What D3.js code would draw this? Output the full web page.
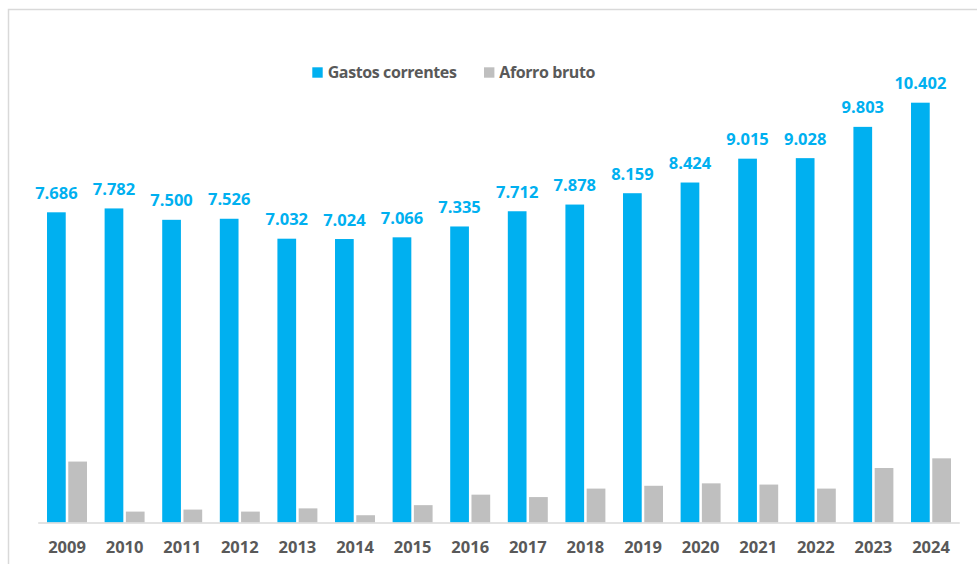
<!DOCTYPE html>
<html>
<head>
<meta charset="utf-8">
<script src="https://cdn.jsdelivr.net/npm/d3@7"></script>
<style>
  html, body { margin: 0; padding: 0; background: #fff; }
  svg { display: block; }
  text { font-family: "Open Sans", Lato, sans-serif; font-weight: bold; }
</style>
</head>
<body>
<svg id="chart" width="977" height="564"></svg>
<script>
// Years on the category axis
const years = ["2009","2010","2011","2012","2013","2014","2015","2016",
               "2017","2018","2019","2020","2021","2022","2023","2024"];
// Current expenditure (labelled values)
const gastosCorrentes = [7.686, 7.782, 7.500, 7.526, 7.032, 7.024, 7.066, 7.335,
                         7.712, 7.878, 8.159, 8.424, 9.015, 9.028, 9.803, 10.402];
// Gross savings
const aforroBruto = [1.51, 0.27, 0.32, 0.27, 0.35, 0.18, 0.43, 0.69,
                     0.63, 0.84, 0.91, 0.97, 0.94, 0.84, 1.35, 1.59];
// Series names and colours
const seriesNames = ["Gastos correntes", "Aforro bruto"];
const seriesColors = ["#00B0F0", "#BFBFBF"];

const svg = d3.select("#chart");
const W = 977, H = 564;

// outer frame
svg.append("rect")
  .attr("x", 8.5).attr("y", 9.5)
  .attr("width", W + 20).attr("height", H + 20)
  .attr("fill", "none").attr("stroke", "#D9D9D9").attr("stroke-width", 1.5);

const plotLeft = 38.2, plotRight = 959.8;
const baseY = 522.5, topY = 38.2;

const x = d3.scaleBand().domain(years).range([plotLeft, plotRight]).paddingInner(0.306).paddingOuter(0.153);
const inner = d3.scaleBand().domain(seriesNames).range([0, x.bandwidth()]).paddingInner(0.12);
const y = d3.scaleLinear().domain([0, 12]).range([baseY, topY]);

const rows = years.map((yr, i) => ({ yr, g: gastosCorrentes[i], a: aforroBruto[i] }));

const groups = svg.append("g").selectAll("g").data(rows).join("g")
  .attr("transform", d => `translate(${x(d.yr)},0)`);

groups.append("rect")
  .attr("x", inner(seriesNames[0]))
  .attr("width", inner.bandwidth())
  .attr("y", d => y(d.g))
  .attr("height", d => y(0) - y(d.g))
  .attr("fill", seriesColors[0]);

groups.append("rect")
  .attr("x", inner(seriesNames[1]))
  .attr("width", inner.bandwidth())
  .attr("y", d => y(d.a))
  .attr("height", d => y(0) - y(d.a))
  .attr("fill", seriesColors[1]);

// value labels above the expenditure bars
groups.append("text")
  .attr("x", inner(seriesNames[0]) + inner.bandwidth() / 2)
  .attr("y", d => y(d.g) - 13.4)
  .attr("text-anchor", "middle")
  .attr("font-size", 16.5)
  .attr("fill", seriesColors[0])
  .text(d => d3.format(".3f")(d.g));

// baseline
svg.append("line")
  .attr("x1", plotLeft).attr("x2", plotRight)
  .attr("y1", baseY + 0.5).attr("y2", baseY + 0.5)
  .attr("stroke", "#D9D9D9").attr("stroke-width", 1.5);

// category axis labels
const xAxis = svg.append("g")
  .attr("transform", `translate(0,${baseY})`)
  .call(d3.axisBottom(x).tickSize(0));
xAxis.select(".domain").remove();
xAxis.selectAll("text")
  .attr("dy", null)
  .attr("y", 30.8)
  .attr("font-family", "'Open Sans', Lato, sans-serif")
  .attr("font-weight", "bold")
  .attr("font-size", 16.5)
  .attr("fill", "#595959");

// legend
const legendItems = [
  { name: seriesNames[0], color: seriesColors[0], sx: 312.3, tx: 327.7 },
  { name: seriesNames[1], color: seriesColors[1], sx: 484, tx: 499.3 }
];
const legend = svg.append("g");
legendItems.forEach(it => {
  legend.append("rect")
    .attr("x", it.sx).attr("y", 67.3)
    .attr("width", 10.4).attr("height", 10.4)
    .attr("fill", it.color);
  legend.append("text")
    .attr("x", it.tx).attr("y", 77.5)
    .attr("font-size", 16)
    .attr("letter-spacing", -0.4)
    .attr("fill", "#595959")
    .text(it.name);
});
</script>
</body>
</html>
